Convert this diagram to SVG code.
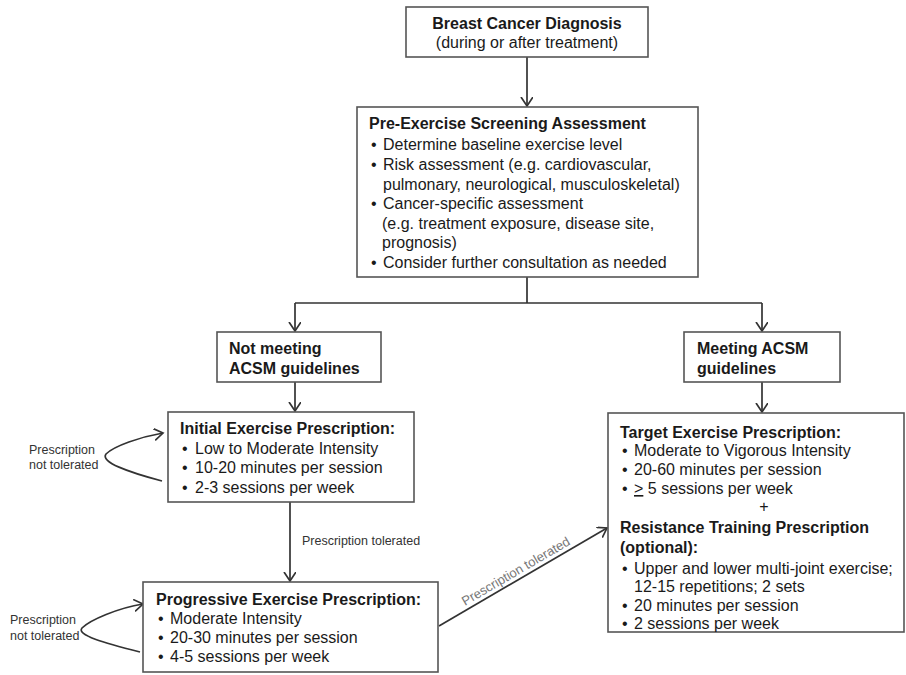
<svg xmlns="http://www.w3.org/2000/svg" width="906" height="675" viewBox="0 0 906 675">
<style>
.box{fill:#fff;stroke:#555;stroke-width:1.6}
.t{font-family:"Liberation Sans",Arial,sans-serif;font-size:16px;fill:#1a1a1a}
.b{font-weight:bold}
.lbl{font-family:"Liberation Sans",Arial,sans-serif;font-size:12.5px;fill:#333}
.dl{font-family:"Liberation Sans",Arial,sans-serif;font-size:13px;fill:#777}
.ln{fill:none;stroke:#333;stroke-width:1.7}
</style>
<defs>
<marker id="ah" markerUnits="userSpaceOnUse" markerWidth="12" markerHeight="14" refX="9" refY="6" orient="auto">
<path d="M0,0 L9,6 L0,12" fill="none" stroke="#333" stroke-width="1.7"/>
</marker>
</defs>
<rect width="906" height="675" fill="#fff"/>
<g id="connectors">
<path class="ln" d="M527,57 V106" marker-end="url(#ah)"/>
<path class="ln" d="M527,277 V303 M295,303 H762"/>
<path class="ln" d="M295,303 V331" marker-end="url(#ah)"/>
<path class="ln" d="M762,303 V331" marker-end="url(#ah)"/>
<path class="ln" d="M295,382 V411" marker-end="url(#ah)"/>
<path class="ln" d="M762,382 V412" marker-end="url(#ah)"/>
<path class="ln" d="M162,481 C128,472 100,462 106,454 C114,446 140,437 163,433" marker-end="url(#ah)"/>
<path class="ln" d="M290,502 V581" marker-end="url(#ah)"/>
<path class="ln" d="M140,652 C104,643 76,635 82,628 C90,620 118,608 143,604" marker-end="url(#ah)"/>
<path class="ln" d="M439,626 L607,528" marker-end="url(#ah)"/>
<text class="lbl" x="29" y="454">Prescription</text>
<text class="lbl" x="29" y="469">not tolerated</text>
<text class="lbl" x="302" y="545">Prescription tolerated</text>
<text class="lbl" x="10" y="624">Prescription</text>
<text class="lbl" x="10" y="640">not tolerated</text>
<text class="dl" text-anchor="middle" transform="translate(518,575) rotate(-30.3)">Prescription tolerated</text>
</g>
<g id="diagnosis">
<rect class="box" x="406" y="7" width="242" height="50"/>
<text class="t b" x="527" y="29" text-anchor="middle">Breast Cancer Diagnosis</text>
<text class="t" x="527" y="48" text-anchor="middle">(during or after treatment)</text>
</g>
<g id="screening">
<rect class="box" x="357" y="107" width="341" height="170"/>
<text class="t b" x="369" y="129">Pre-Exercise Screening Assessment</text>
<text class="t"><tspan x="371" y="150">•</tspan><tspan x="383" y="150">Determine baseline exercise level</tspan></text>
<text class="t"><tspan x="371" y="170">•</tspan><tspan x="383" y="170">Risk assessment (e.g. cardiovascular,</tspan></text>
<text class="t" x="383" y="190">pulmonary, neurological, musculoskeletal)</text>
<text class="t"><tspan x="371" y="209">•</tspan><tspan x="383" y="209">Cancer-specific assessment</tspan></text>
<text class="t" x="382" y="229">(e.g. treatment exposure, disease site,</text>
<text class="t" x="382" y="248">prognosis)</text>
<text class="t"><tspan x="371" y="268">•</tspan><tspan x="383" y="268">Consider further consultation as needed</tspan></text>
</g>
<g id="not-meeting">
<rect class="box" x="217" y="332" width="164" height="50"/>
<text class="t b" x="229" y="354">Not meeting</text>
<text class="t b" x="229" y="374">ACSM guidelines</text>
</g>
<g id="meeting">
<rect class="box" x="684" y="332" width="156" height="50"/>
<text class="t b" x="697" y="354">Meeting ACSM</text>
<text class="t b" x="697" y="374">guidelines</text>
</g>
<g id="initial">
<rect class="box" x="168" y="412" width="246" height="90"/>
<text class="t b" x="180" y="434">Initial Exercise Prescription:</text>
<text class="t"><tspan x="182" y="454">•</tspan><tspan x="195" y="454">Low to Moderate Intensity</tspan></text>
<text class="t"><tspan x="182" y="473">•</tspan><tspan x="195" y="473">10-20 minutes per session</tspan></text>
<text class="t"><tspan x="182" y="493">•</tspan><tspan x="195" y="493">2-3 sessions per week</tspan></text>
</g>
<g id="progressive">
<rect class="box" x="143" y="582" width="295" height="90"/>
<text class="t b" x="156" y="605">Progressive Exercise Prescription:</text>
<text class="t"><tspan x="158" y="624">•</tspan><tspan x="170" y="624">Moderate Intensity</tspan></text>
<text class="t"><tspan x="158" y="643">•</tspan><tspan x="170" y="643">20-30 minutes per session</tspan></text>
<text class="t"><tspan x="158" y="662">•</tspan><tspan x="170" y="662">4-5 sessions per week</tspan></text>
</g>
<g id="target">
<rect class="box" x="608" y="413" width="296" height="219"/>
<text class="t b" x="620" y="438">Target Exercise Prescription:</text>
<text class="t"><tspan x="622" y="456">•</tspan><tspan x="634" y="456">Moderate to Vigorous Intensity</tspan></text>
<text class="t"><tspan x="622" y="475">•</tspan><tspan x="634" y="475">20-60 minutes per session</tspan></text>
<text class="t"><tspan x="622" y="494">•</tspan><tspan x="634" y="494" text-decoration="underline">&gt;</tspan><tspan> 5 sessions per week</tspan></text>
<text class="t" x="764" y="512" text-anchor="middle">+</text>
<text class="t b" x="620" y="533">Resistance Training Prescription</text>
<text class="t b" x="620" y="553">(optional):</text>
<text class="t"><tspan x="622" y="574">•</tspan><tspan x="634" y="574">Upper and lower multi-joint exercise;</tspan></text>
<text class="t" x="634" y="592">12-15 repetitions; 2 sets</text>
<text class="t"><tspan x="622" y="611">•</tspan><tspan x="634" y="611">20 minutes per session</tspan></text>
<text class="t"><tspan x="622" y="629">•</tspan><tspan x="634" y="629">2 sessions per week</tspan></text>
</g>
</svg>
